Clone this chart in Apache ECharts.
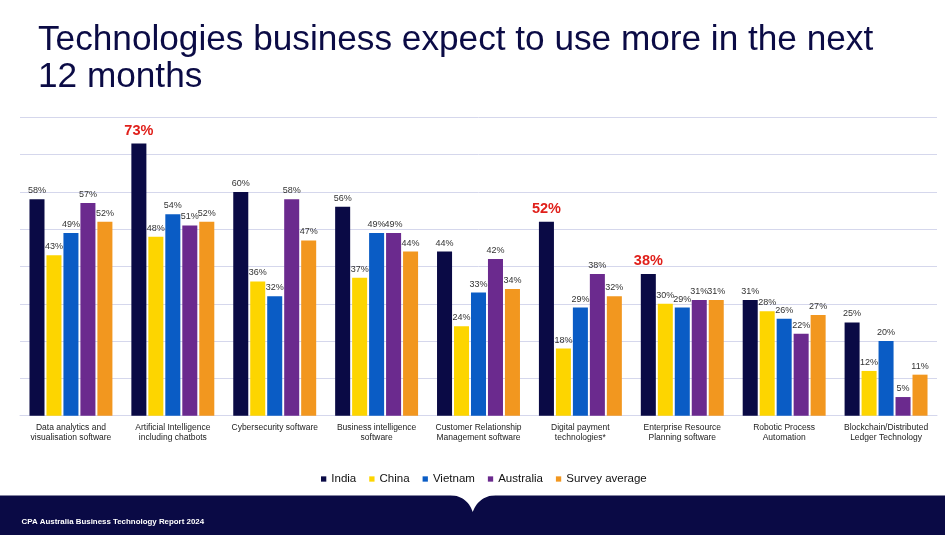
<!DOCTYPE html>
<html>
<head>
<meta charset="utf-8">
<script src="https://cdn.jsdelivr.net/npm/echarts@6/dist/echarts.min.js"></script>
<style>
html,body{margin:0;padding:0;background:#fff;}
#chart{width:951px;height:541px;}
</style>
</head>
<body>
<div id="chart"></div>
<script>
const categories = [
  "Data analytics and\nvisualisation software",
  "Artificial Intelligence\nincluding chatbots",
  "Cybersecurity software",
  "Business intelligence\nsoftware",
  "Customer Relationship\nManagement software",
  "Digital payment\ntechnologies*",
  "Enterprise Resource\nPlanning software",
  "Robotic Process\nAutomation",
  "Blockchain/Distributed\nLedger Technology"
];
const seriesNames = ["India", "China", "Vietnam", "Australia", "Survey average"];
const india     = [58, 73, 60, 56, 44, 52, 38, 31, 25];
const china     = [43, 48, 36, 37, 24, 18, 30, 28, 12];
const vietnam   = [49, 54, 32, 49, 33, 29, 29, 26, 20];
const australia = [57, 51, 58, 49, 42, 38, 31, 22, 5];
const surveyAvg = [52, 52, 47, 44, 34, 32, 31, 27, 11];
const highlightIndia = [1, 5, 6];
const yTicks = [0, 10, 20, 30, 40, 50, 60, 70, 80];

const colors = ["#0a0a45", "#fdd500", "#0a5cc5", "#6b2a8e", "#f2971f"];
const values = [india, china, vietnam, australia, surveyAvg];

const FONT = "Liberation Sans, Arial, sans-serif";

const series = values.map((arr, si) => ({
  name: seriesNames[si],
  type: 'bar',
  barGap: '13%',
  barCategoryGap: '18.6%',
  itemStyle: { color: colors[si] },
  label: {
    show: true,
    position: 'top',
    distance: 4,
    formatter: '{c}%',
    fontSize: 9,
    fontFamily: FONT,
    color: '#333'
  },
  data: arr.map((v, i) => {
    if (si === 0 && highlightIndia.indexOf(i) >= 0) {
      return {
        value: v,
        label: { fontSize: 14.5, fontWeight: 'bold', color: '#e0201b', distance: 5 }
      };
    }
    return v;
  })
}));

// footer notch outline (decoration): two convex shoulders meeting at a tip
function quad(p0, p1, p2, n) {
  const pts = [];
  for (let k = 0; k <= n; k++) {
    const t = k / n;
    const a = (1 - t) * (1 - t), b = 2 * (1 - t) * t, c = t * t;
    pts.push([a * p0[0] + b * p1[0] + c * p2[0], a * p0[1] + b * p1[1] + c * p2[1]]);
  }
  return pts;
}
const notchPts = quad([448, 495], [467, 495], [472.7, 512], 16)
  .concat(quad([472.7, 512], [479, 495], [498, 495], 16).slice(1));

const chart = echarts.init(document.getElementById('chart'), null, { renderer: 'canvas' });
chart.setOption({
  backgroundColor: '#fff',
  animation: false,
  color: colors,
  title: {
    text: "Technologies business expect to use more in the next\n12 months",
    left: 33,
    top: 16,
    textStyle: {
      fontFamily: FONT,
      fontSize: 35.2,
      fontWeight: 'normal',
      color: '#0b0b45',
      lineHeight: 37.6
    }
  },
  legend: {
    data: seriesNames,
    left: 316,
    top: 468,
    icon: 'rect',
    itemWidth: 5.3,
    itemHeight: 5.3,
    itemGap: 13,
    textStyle: { fontFamily: FONT, fontSize: 11.5, color: '#111' }
  },
  grid: { left: 20, right: 14, top: 117.3, bottom: 125.3, containLabel: false },
  xAxis: {
    type: 'category',
    data: categories,
    axisLine: { show: true, lineStyle: { color: '#d5d7ec', width: 1 } },
    axisTick: { show: false },
    axisLabel: {
      interval: 0,
      margin: 7,
      fontFamily: FONT,
      fontSize: 8.5,
      lineHeight: 10,
      color: '#222'
    }
  },
  yAxis: {
    type: 'value',
    min: yTicks[0],
    max: yTicks[yTicks.length - 1],
    interval: 10,
    axisLabel: { show: false },
    axisLine: { show: false },
    axisTick: { show: false },
    splitLine: { show: true, lineStyle: { color: '#d5d7ec', width: 1 } }
  },
  series: series,
  graphic: [
    {
      type: 'rect',
      shape: { x: 0, y: 495.5, width: 945, height: 39.5 },
      style: { fill: '#0a0a45' },
      z: 10
    },
    {
      type: 'polygon',
      shape: { points: notchPts },
      style: { fill: '#ffffff' },
      z: 11
    },
    {
      type: 'text',
      left: 21.5,
      top: 517.5,
      style: {
        text: 'CPA Australia Business Technology Report 2024',
        fill: '#ffffff',
        font: 'bold 7.9px Liberation Sans, Arial, sans-serif'
      },
      z: 12
    }
  ]
});
</script>
</body>
</html>
